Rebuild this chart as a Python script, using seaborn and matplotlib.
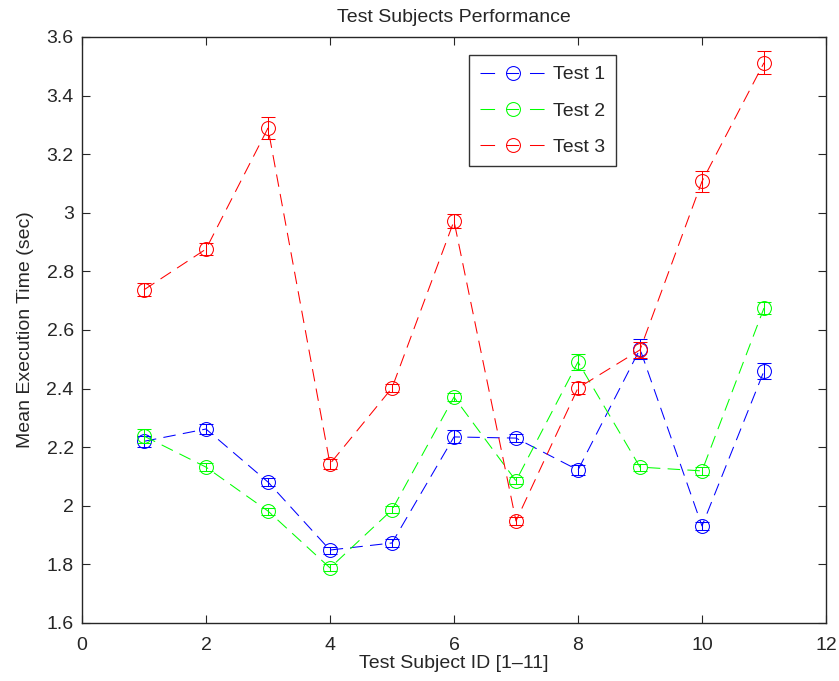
import numpy as np
import pandas as pd
import matplotlib
matplotlib.use("Agg")
import matplotlib.pyplot as plt
import seaborn as sns
from matplotlib.lines import Line2D

subjects = list(range(1, 12))
test1 = [2.22, 2.262, 2.081, 1.849, 1.873, 2.235, 2.231, 2.122, 2.535, 1.931, 2.46]
test2 = [2.238, 2.132, 1.982, 1.788, 1.986, 2.371, 2.085, 2.491, 2.132, 2.119, 2.675]
test3 = [2.737, 2.876, 3.289, 2.143, 2.402, 2.972, 1.948, 2.402, 2.532, 3.107, 3.512]
err1 = [0.018, 0.018, 0.015, 0.012, 0.012, 0.022, 0.015, 0.018, 0.035, 0.012, 0.028]
err2 = [0.025, 0.015, 0.012, 0.012, 0.012, 0.015, 0.012, 0.028, 0.012, 0.015, 0.02]
err3 = [0.022, 0.02, 0.038, 0.018, 0.015, 0.025, 0.015, 0.02, 0.028, 0.035, 0.04]
labels = ["Test 1", "Test 2", "Test 3"]
colors = ["#0000ff", "#00ff00", "#ff0000"]

sns.set_style("ticks")
plt.rcParams['font.family'] = ['Liberation Sans', 'DejaVu Sans']

df = pd.DataFrame({
    "subject": subjects * 3,
    "time": test1 + test2 + test3,
    "err": err1 + err2 + err3,
    "test": [l for l in labels for _ in subjects],
})

fig = plt.figure(figsize=(8.39, 6.81), dpi=100)
ax = fig.add_axes([0.0977, 0.0852, 0.8868, 0.8605])

DASH = (0, (12, 7))
LW = 0.75
for lab, col in zip(labels, colors):
    d = df[df["test"] == lab]
    sns.lineplot(data=d, x="subject", y="time", color=col, ax=ax,
                 linestyle=DASH, linewidth=LW, marker="o", markersize=10,
                 markerfacecolor="none", markeredgecolor=col,
                 markeredgewidth=LW, legend=False)
    ax.errorbar(d["subject"], d["time"], yerr=d["err"], fmt="none",
                ecolor=col, elinewidth=LW, capsize=4.8, capthick=LW)

handles = [Line2D([], [], color=c, linestyle=(0, (14, 10.5, 12.5, 10.5)),
                  linewidth=LW, marker="o", markersize=10,
                  markerfacecolor="none", markeredgecolor=c,
                  markeredgewidth=LW) for c in colors]
leg = ax.legend(handles, labels, loc="upper left",
                bbox_to_anchor=(0.52, 0.969), borderaxespad=0, fontsize=14,
                frameon=True, fancybox=False, edgecolor="black",
                handlelength=3.4, borderpad=0.55, labelspacing=0.95,
                handletextpad=0.4)
leg.get_frame().set_linewidth(1.0)

ax.set_xlim(0, 12)
ax.set_ylim(1.6, 3.6)
ax.set_xticks(range(0, 13, 2))
ax.set_yticks(np.arange(1.6, 3.61, 0.2))
ax.set_yticklabels(["1.6", "1.8", "2", "2.2", "2.4", "2.6", "2.8", "3", "3.2", "3.4", "3.6"])
ax.tick_params(direction="in", top=True, right=True, labelsize=14, length=6,
               width=0.8, pad=6)
ax.tick_params(axis="x", pad=10)
for s in ax.spines.values():
    s.set_linewidth(1.0)
    s.set_visible(True)
ax.set_xlabel("Test Subject ID [1\u201311]", fontsize=14, labelpad=1)
ax.set_ylabel("Mean Execution Time (sec)", fontsize=14, labelpad=9)
ax.set_title("Test Subjects Performance", fontsize=14, pad=11)

fig.savefig("out.png", dpi=100)
